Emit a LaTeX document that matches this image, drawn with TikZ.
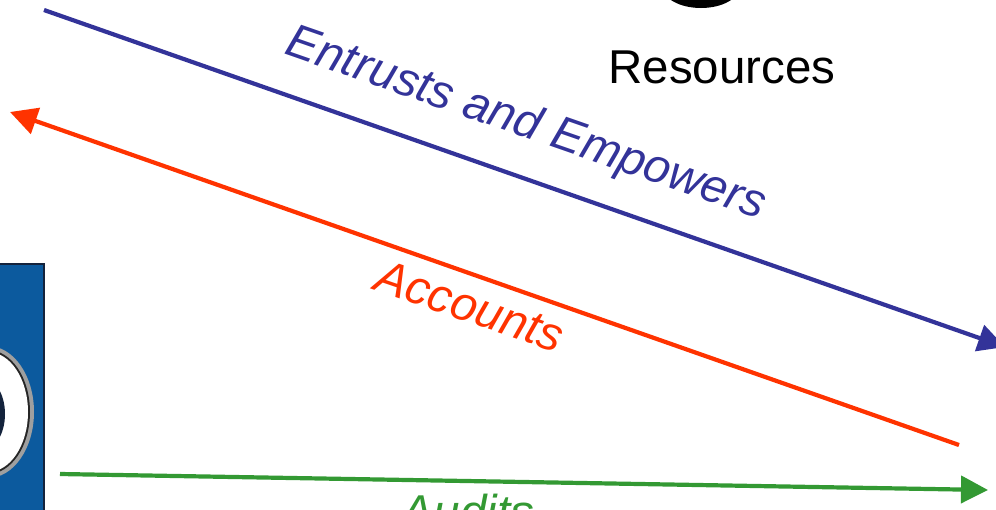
\documentclass[tikz,border=0pt]{standalone}
\usepackage{fontspec}
\setmainfont{Liberation Sans}
\usetikzlibrary{arrows.meta}
\definecolor{trustblue}{RGB}{51,51,153}
\definecolor{acctred}{RGB}{255,51,0}
\definecolor{auditgreen}{RGB}{51,153,51}
\definecolor{logoblue}{RGB}{12,90,158}
\definecolor{logoedge}{RGB}{20,35,60}
\tikzset{
  flow/.style={line width=4.2pt},
  flowtip/.style={-{Triangle[length=27pt,width=27pt]}},
  lbl/.style={inner sep=0pt,font=\fontsize{47.5}{47.5}\selectfont},
  slant/.style={lbl,font=\fontsize{47.5}{47.5}\selectfont\itshape}
}
\begin{document}
\begin{tikzpicture}[x=1pt,y=-1pt]
\useasboundingbox (0,0) rectangle (996,509);
\clip (0,0) rectangle (996,509);
% logo
\fill[logoblue,draw=logoedge,line width=2.4pt] (-10,264) rectangle (44,520);
\fill[gray!75] (-12,412) ellipse [x radius=46,y radius=66];
\fill[black!85] (-12,412) ellipse [x radius=42,y radius=62];
\fill[white] (-12,412) ellipse [x radius=40,y radius=60];
\fill[logoedge] (-20,414) ellipse [x radius=25,y radius=38];
% resource icon
\fill[black] (701,-14) ellipse [x radius=39,y radius=22];
\node[lbl,anchor=base] (res) at (722,83) {Resources};
% flows
\coordinate (a1) at (44,10);
\coordinate (a2) at (1005,347);
\coordinate (b1) at (959,445);
\coordinate (b2) at (10,112);
\coordinate (c1) at (60,474);
\coordinate (c2) at (988,490);
\draw[flow,flowtip,trustblue] (a1) -- (a2);
\draw[flow,flowtip,acctred] (b1) -- (b2);
\draw[flow,flowtip,auditgreen] (c1) -- (c2);
\node[slant,text=trustblue,rotate=-19.2] (ent) at (526,125) {Entrusts and Empowers};
\node[slant,text=acctred,rotate=-18.8] (acc) at (470,306) {Accounts};
\node[slant,text=auditgreen,anchor=base] (aud) at (468,528) {Audits};
\end{tikzpicture}
\end{document}
